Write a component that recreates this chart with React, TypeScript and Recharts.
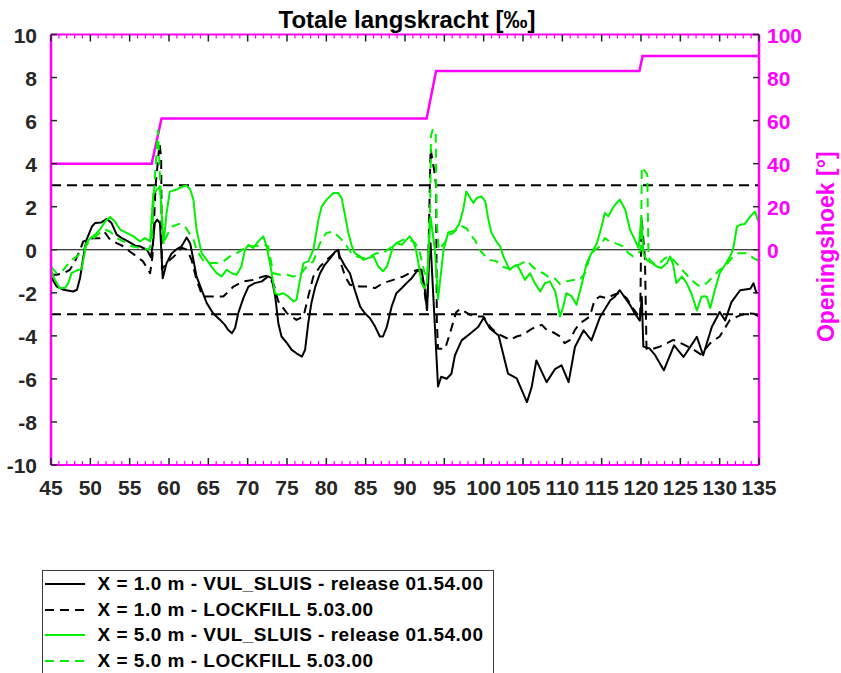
import React from "react";
import { LineChart, Line, XAxis, YAxis, ReferenceLine } from "recharts";

const W = 841;
const H = 673;

const MAGENTA = "#ff00ff";
const GREEN = "#00f000";
const INK = "#262626";
const FONT = "'Liberation Sans', Arial, Helvetica, sans-serif";

// time axis [s]
const T_RANGE: [number, number] = [45, 135];
const T_TICKS = Array.from({ length: 91 }, (_, i) => 45 + i);
const FORCE_RANGE: [number, number] = [-10, 10];
const FORCE_TICKS = [-10, -8, -6, -4, -2, 0, 2, 4, 6, 8, 10];
const ANGLE_RANGE: [number, number] = [-100, 100];
const ANGLE_TICKS = [-80, -60, -40, -20, 0, 20, 40, 60, 80, 100];
const FORCE_LIMITS = [3, -3];

// [t, force ‰] X = 1.0 m, VUL_SLUIS
const X1_VUL = [
  [45.0, -1.25], [45.7, -1.7], [46.6, -1.86], [47.8, -1.94], [48.3, -1.86], [48.7, -1.3], [49.1, -0.35],
  [49.5, 0.45], [50.2, 1.08], [50.6, 1.24], [51.4, 1.27], [52.1, 1.43], [52.7, 1.24], [53.35, 0.7],
  [54.0, 0.54], [54.8, 0.39], [55.7, 0.19], [56.3, 0.16], [57.2, 0.0], [57.7, -0.35], [57.95, 0.3],
  [58.2, 1.24], [58.5, 1.4], [58.85, 1.24], [59.2, -1.32], [59.7, -0.62], [60.3, -0.19], [61.0, 0.03],
  [61.6, 0.16], [62.25, 0.57], [62.7, 0.28], [63.1, -0.47], [63.5, -1.24], [64.15, -1.86], [64.8, -2.48],
  [65.6, -2.95], [66.5, -3.26], [67.1, -3.49], [67.5, -3.72], [68.0, -3.88], [68.4, -3.64], [68.8, -2.95],
  [69.45, -2.25], [70.1, -1.71], [70.9, -1.55], [71.8, -1.47], [72.6, -1.24], [73.05, -1.32], [73.5, -2.17],
  [73.9, -3.41], [74.3, -4.03], [75.0, -4.34], [75.6, -4.65], [76.2, -4.81], [76.9, -4.96], [77.3, -4.65],
  [77.7, -3.41], [78.1, -2.48], [78.6, -1.71], [79.2, -1.09], [79.8, -0.7], [80.5, -0.39], [81.1, -0.1],
  [81.5, 0.0], [81.7, -0.31], [82.4, -0.78], [83.0, -1.09], [83.6, -1.86], [84.3, -2.64], [84.9, -2.95],
  [85.55, -3.18], [86.2, -3.57], [86.8, -4.03], [87.2, -4.03], [87.7, -3.57], [88.3, -2.64], [88.9, -2.02],
  [89.6, -1.78], [90.2, -1.55], [90.85, -1.32], [91.5, -1.0], [92.1, -0.93], [92.5, -1.8], [92.8, -2.8],
  [93.1, -0.2], [93.25, 0.3], [94.2, -6.35], [94.6, -5.9], [95.3, -5.99], [95.9, -5.76], [96.35, -4.9],
  [97.2, -4.21], [98.3, -3.89], [99.3, -3.59], [100.0, -3.16], [100.8, -3.66], [101.9, -3.98], [103.1, -5.76],
  [104.2, -5.98], [105.5, -7.08], [106.1, -6.38], [106.7, -5.14], [108.0, -6.15], [109.1, -5.53], [109.9, -5.37],
  [110.8, -6.15], [111.6, -4.52], [112.7, -3.74], [113.7, -4.21], [114.8, -3.12], [116.1, -2.35], [116.7, -2.17],
  [117.3, -1.88], [118.0, -2.25], [118.6, -2.56], [119.2, -2.95], [119.85, -3.3], [120.1, -2.2], [120.3, -4.5],
  [121.1, -4.59], [121.8, -4.9], [122.9, -5.6], [124.2, -4.44], [125.4, -4.98], [127.1, -4.05], [127.9, -4.9],
  [129.0, -3.59], [130.0, -2.89], [130.7, -3.28], [131.5, -2.43], [132.6, -1.88], [133.9, -1.81], [134.3, -1.56],
  [134.7, -2.04],
];

// [t, force ‰] X = 1.0 m, LOCKFILL
const X1_LOCKFILL = [
  [45.0, -1.16], [45.7, -1.16], [46.6, -1.09], [47.4, -0.93], [48.05, -0.54], [48.7, 0.0], [49.1, 0.39],
  [49.8, 0.47], [50.4, 0.54], [51.2, 0.54], [51.9, 0.78], [52.5, 0.47], [53.35, 0.31], [54.2, 0.16],
  [55.0, -0.08], [55.9, -0.31], [56.7, -0.54], [57.6, -1.09], [57.9, -0.3], [58.3, 3.0], [58.8, 4.95],
  [59.0, 4.3], [59.1, -0.9], [59.9, -0.55], [60.8, -0.25], [61.6, 0.1], [62.3, 0.0], [62.9, -0.5],
  [63.5, -1.4], [64.2, -2.1], [64.6, -2.17], [66.9, -2.17], [68.2, -1.71], [69.45, -1.47], [70.7, -1.4],
  [72.0, -1.24], [72.6, -1.2], [73.3, -1.6], [73.9, -2.4], [75.0, -2.95], [76.2, -3.26], [77.1, -3.1],
  [77.7, -2.17], [78.35, -1.24], [79.2, -0.78], [80.05, -0.47], [80.9, -0.2], [81.5, 0.0], [81.7, -0.47],
  [82.4, -1.24], [83.0, -1.63], [84.3, -1.71], [85.1, -1.71], [86.2, -1.78], [87.2, -1.55], [88.5, -1.4],
  [89.8, -1.24], [91.06, -1.0], [91.9, -0.9], [92.5, -2.0], [92.8, -2.8], [93.05, 1.0], [93.25, 4.7],
  [93.7, 3.7], [93.95, 3.0], [94.05, -3.3], [94.2, -4.6], [95.1, -4.6], [95.7, -3.9], [96.5, -2.9],
  [97.0, -2.75], [98.3, -3.02], [99.1, -3.1], [99.95, -3.1], [100.8, -3.57], [101.65, -3.88], [102.5, -4.03],
  [103.35, -4.19], [104.2, -4.03], [105.0, -3.95], [105.9, -3.72], [106.7, -3.57], [107.4, -3.49], [108.0, -3.72],
  [108.85, -3.84], [109.7, -4.03], [110.3, -4.34], [111.0, -4.19], [111.6, -3.72], [112.25, -3.41], [112.9, -3.26],
  [113.5, -3.1], [114.1, -2.33], [114.8, -2.17], [115.6, -2.25], [116.5, -2.1], [117.3, -2.0], [118.2, -2.25],
  [118.8, -2.64], [119.45, -2.95], [119.9, -3.2], [120.05, 1.55], [120.5, -0.4], [120.7, -4.6], [121.1, -4.65],
  [122.4, -4.5], [124.1, -4.19], [125.4, -4.4], [126.5, -4.6], [127.6, -4.86], [128.8, -4.34], [130.0, -4.03],
  [131.3, -3.26], [132.6, -3.05], [133.5, -2.95], [134.3, -2.97], [135.0, -3.1],
];

// [t, force ‰] X = 5.0 m, VUL_SLUIS
const X5_VUL = [
  [45.0, -0.95], [45.5, -1.4], [46.1, -1.78], [46.8, -1.78], [47.2, -1.55], [47.6, -1.09], [48.3, -0.96],
  [48.9, -0.9], [49.5, 0.31], [50.0, 0.54], [50.6, 0.7], [51.2, 0.93], [51.9, 1.32], [52.5, 1.52],
  [53.1, 1.32], [53.8, 0.93], [54.6, 0.78], [55.5, 0.62], [56.3, 0.39], [56.95, 0.54], [57.6, 0.39],
  [58.0, 2.6], [58.4, 2.76], [58.85, 2.95], [59.3, 0.31], [59.7, 1.71], [60.1, 2.7], [61.0, 2.8],
  [61.8, 2.95], [62.25, 2.98], [62.7, 2.8], [63.1, 2.33], [63.5, 0.93], [64.15, -0.16], [64.8, -0.47],
  [65.4, -0.78], [66.06, -1.09], [66.7, -1.24], [67.33, -0.93], [67.97, -1.09], [68.6, -1.16], [69.2, -0.78],
  [69.66, 0.0], [70.1, 0.23], [70.7, 0.08], [71.35, 0.39], [72.0, 0.62], [72.4, 0.16], [72.84, -0.62],
  [73.47, -2.02], [73.9, -2.09], [74.5, -2.02], [75.17, -2.17], [75.8, -2.4], [76.2, -2.33], [76.65, -1.4],
  [77.1, -0.62], [77.7, -0.54], [78.35, 0.0], [79.0, 1.4], [79.4, 2.0], [80.04, 2.33], [80.9, 2.64],
  [81.5, 2.64], [81.95, 2.4], [82.4, 1.55], [82.8, 0.78], [83.2, 0.23], [83.6, -0.16], [84.3, -0.31],
  [84.7, -0.47], [85.3, -0.39], [86.0, -0.31], [86.6, -0.78], [87.2, -1.0], [87.7, -0.78], [88.1, -0.31],
  [88.5, 0.16], [88.9, 0.31], [89.6, 0.23], [90.0, 0.39], [90.6, 0.62], [91.06, 0.39], [91.4, 0.0],
  [91.7, -0.62], [92.1, -1.55], [92.5, -1.78], [92.8, -1.5], [93.25, 1.53], [93.8, 0.0], [94.2, -2.3],
  [94.9, 0.0], [95.5, 0.8], [96.35, 0.9], [96.9, 1.2], [97.4, 1.86], [97.8, 2.71], [98.3, 2.4],
  [98.7, 2.17], [99.1, 2.4], [99.7, 2.48], [100.2, 2.25], [100.6, 1.4], [101.0, 0.78], [101.6, 0.39],
  [102.1, 0.16], [102.5, -0.31], [102.9, -0.62], [103.3, -0.93], [103.8, -0.78], [104.2, -0.7], [104.6, -0.93],
  [105.25, -1.4], [105.9, -1.09], [106.5, -1.55], [107.2, -1.94], [107.8, -1.55], [108.4, -1.47], [109.1, -1.94],
  [109.7, -3.1], [110.1, -2.67], [110.5, -2.02], [111.2, -2.17], [111.8, -2.56], [112.5, -1.55], [113.1, -0.62],
  [113.7, -0.16], [114.4, 0.31], [115.0, 1.09], [115.4, 1.71], [115.85, 1.55], [116.3, 1.86], [116.7, 2.09],
  [117.3, 2.33], [118.0, 1.86], [118.6, 0.93], [119.2, 0.47], [119.7, 0.08], [120.05, 1.5], [120.3, -0.16],
  [120.7, -0.47], [121.4, -0.62], [122.0, -0.78], [122.6, -0.85], [123.3, -0.62], [123.7, -0.31], [124.1, -0.7],
  [124.5, -1.55], [125.2, -1.24], [125.8, -1.55], [126.4, -2.02], [127.1, -2.82], [127.7, -2.17], [128.35, -2.17],
  [128.8, -2.71], [129.4, -1.86], [130.0, -1.09], [130.7, -0.7], [131.3, -0.31], [131.7, 0.0], [132.2, 1.09],
  [132.6, 1.16], [133.2, 1.2], [133.9, 1.55], [134.5, 1.78], [134.9, 1.32],
];

// [t, force ‰] X = 5.0 m, LOCKFILL
const X5_LOCKFILL = [
  [45.0, -0.78], [45.7, -1.09], [46.6, -0.93], [47.4, -0.54], [48.3, -0.31], [49.1, 0.0], [49.7, 0.31],
  [50.4, 0.54], [51.2, 0.78], [51.9, 0.93], [52.5, 0.85], [53.35, 0.54], [54.2, 0.39], [55.3, 0.16],
  [56.3, 0.08], [57.4, 0.0], [57.8, 0.3], [58.2, 3.4], [58.6, 5.55], [58.95, 2.64], [59.3, 0.31],
  [59.9, 0.78], [60.5, 1.1], [61.3, 1.2], [62.0, 1.1], [62.6, 0.75], [63.1, 0.5], [63.5, 0.0],
  [64.4, -0.54], [65.2, -0.62], [66.06, -0.62], [66.9, -0.54], [67.75, -0.31], [68.6, -0.16], [69.45, 0.03],
  [70.3, 0.16], [71.1, 0.16], [72.0, 0.23], [72.6, 0.16], [73.26, -1.09], [74.1, -1.16], [75.0, -1.16],
  [75.8, -1.24], [76.65, -1.16], [77.5, -0.78], [78.35, -0.54], [79.2, 0.31], [80.0, 0.78], [80.9, 0.85],
  [81.3, 0.7], [81.95, 0.47], [82.6, 0.16], [83.2, -0.16], [83.9, -0.31], [84.7, -0.39], [85.55, -0.31],
  [86.4, -0.16], [87.2, -0.16], [88.1, 0.08], [88.9, 0.31], [89.8, 0.47], [90.6, 0.47], [91.3, 0.31],
  [91.9, -0.16], [92.5, -1.09], [92.85, -1.24], [93.2, 2.0], [93.3, 5.3], [93.55, 5.6], [93.9, 5.5],
  [94.0, 1.4], [94.3, 0.0], [95.1, 0.35], [95.5, 0.7], [96.0, 0.75], [96.6, 0.95], [97.2, 1.09],
  [97.8, 1.0], [98.5, 0.62], [98.9, 0.45], [99.5, 0.0], [100.2, -0.31], [100.8, -0.47], [101.65, -0.54],
  [102.5, -0.8], [103.35, -0.9], [104.2, -0.75], [105.0, -0.6], [105.5, -0.5], [106.1, -0.75], [106.7, -0.93],
  [107.6, -1.1], [108.4, -1.3], [109.1, -1.35], [109.7, -1.6], [110.5, -1.47], [111.4, -1.4], [112.2, -1.4],
  [112.9, -1.09], [113.5, -0.31], [114.15, 0.0], [114.8, 0.16], [115.4, 0.54], [116.0, 0.39], [116.7, 0.31],
  [117.75, 0.16], [118.4, -0.16], [119.0, -0.31], [119.6, -0.2], [120.0, 0.0], [120.1, 3.85], [120.8, 3.5],
  [120.95, -0.3], [121.1, -0.47], [121.8, -0.7], [122.4, -0.62], [123.05, -0.39], [123.7, -0.31], [124.5, -0.62],
  [125.4, -1.0], [126.2, -1.32], [126.9, -1.55], [127.5, -1.71], [128.35, -1.55], [129.2, -1.24], [130.0, -0.93],
  [130.7, -0.78], [131.5, -0.39], [132.4, -0.16], [133.4, -0.16], [134.3, -0.39], [134.9, -0.5],
];

// [t, opening angle °]
const OPENING = [
  [45, 40], [57.8, 40], [59.05, 61], [92.75, 61], [93.95, 83], [119.8, 83], [120.2, 90], [135, 90],
];

const SERIES = [
  { name: "X = 1.0 m - VUL_SLUIS - release 01.54.00", rows: X1_VUL, color: "#000000", dash: undefined },
  { name: "X = 1.0 m - LOCKFILL 5.03.00", rows: X1_LOCKFILL, color: "#000000", dash: "9 6" },
  { name: "X = 5.0 m - VUL_SLUIS - release 01.54.00", rows: X5_VUL, color: GREEN, dash: undefined },
  { name: "X = 5.0 m - LOCKFILL 5.03.00", rows: X5_LOCKFILL, color: GREEN, dash: "9 6" },
];

const toPoints = (rows: number[][]) => rows.map(([t, v]) => ({ t, v }));

const textStyle = { fontFamily: FONT, fontWeight: "bold" as const };

function BottomTick({ x, y, payload }: any) {
  const major = payload.value % 5 === 0;
  return (
    <g>
      <line x1={x} x2={x} y1={y} y2={y - (major ? 7 : 4)} stroke={major ? INK : MAGENTA} strokeWidth={major ? 1.5 : 1.2} />
      {major && (
        <text x={x} y={y + 30} textAnchor="middle" fill={INK} fontSize={21} {...textStyle}>
          {payload.value}
        </text>
      )}
    </g>
  );
}

function TopTick({ x, y, payload }: any) {
  const major = payload.value % 5 === 0;
  return <line x1={x} x2={x} y1={y} y2={y + (major ? 7 : 4)} stroke={major ? INK : MAGENTA} strokeWidth={major ? 1.5 : 1.2} />;
}

function ForceTick({ x, y, payload }: any) {
  return (
    <g>
      <line x1={x} x2={x + 6} y1={y} y2={y} stroke={INK} strokeWidth={1.5} />
      <text x={x - 14} y={y + 8} textAnchor="end" fill={INK} fontSize={21} {...textStyle}>
        {payload.value}
      </text>
    </g>
  );
}

function AngleTick({ x, y, payload }: any) {
  return (
    <g>
      <line x1={x} x2={x - 6} y1={y} y2={y} stroke={INK} strokeWidth={1.5} />
      {payload.value >= 0 && (
        <text x={x + 8} y={y + 8} textAnchor="start" fill={MAGENTA} fontSize={21} {...textStyle}>
          {payload.value}
        </text>
      )}
    </g>
  );
}

function TitleLabel({ viewBox }: any) {
  const { x, y, width, height } = viewBox;
  return (
    <text x={x + width / 2 + 2} y={y + height - 7} textAnchor="middle" fill="#000" fontSize={24} {...textStyle}>
      Totale langskracht [‰]
    </text>
  );
}

function AngleLabel({ viewBox }: any) {
  const { x, y, height } = viewBox;
  const cx = x + 67;
  const cy = y + height / 2 - 3;
  return (
    <text
      x={cx}
      y={cy}
      textAnchor="middle"
      dominantBaseline="central"
      transform={`rotate(-90 ${cx} ${cy})`}
      fill={MAGENTA}
      fontSize={23}
      {...textStyle}
    >
      Openingshoek [°]
    </text>
  );
}

function LegendBox() {
  return (
    <div
      style={{
        position: "absolute",
        left: 42,
        top: 570,
        width: 452,
        height: 130,
        boxSizing: "border-box",
        border: "1.5px solid #3a3a3a",
        background: "#fff",
        fontFamily: FONT,
        fontWeight: "bold",
        fontSize: 19,
        letterSpacing: 0.5,
        color: "#000",
      }}
    >
      {SERIES.map((s) => (
        <div key={s.name} style={{ display: "flex", alignItems: "center", height: 25.7, whiteSpace: "nowrap" }}>
          <svg width={40} height={10} style={{ marginLeft: 1.5, marginRight: 13 }}>
            <line x1={0} x2={40} y1={5} y2={5} stroke={s.color} strokeWidth={2} strokeDasharray={s.dash} />
          </svg>
          <span>{s.name}</span>
        </div>
      ))}
    </div>
  );
}

export default function App() {
  return (
    <div style={{ position: "absolute", left: 0, top: 0, width: W, height: H, overflow: "hidden", background: "#fff" }}>
      <LineChart width={W} height={H} margin={{ top: 0, right: 0, bottom: 168, left: 0 }}>
        <XAxis
          xAxisId="top"
          orientation="top"
          type="number"
          dataKey="t"
          domain={T_RANGE}
          ticks={T_TICKS}
          interval={0}
          height={34.5}
          tickSize={0}
          tickMargin={0}
          tick={(p: any) => <TopTick {...p} />}
          axisLine={{ stroke: MAGENTA, strokeWidth: 2 }}
          label={(p: any) => <TitleLabel {...p} />}
          allowDataOverflow
        />
        <XAxis
          xAxisId="t"
          type="number"
          dataKey="t"
          domain={T_RANGE}
          ticks={T_TICKS}
          interval={0}
          height={40}
          tickSize={0}
          tickMargin={0}
          tick={(p: any) => <BottomTick {...p} />}
          axisLine={{ stroke: MAGENTA, strokeWidth: 2 }}
          allowDataOverflow
        />
        <YAxis
          yAxisId="force"
          type="number"
          domain={FORCE_RANGE}
          ticks={FORCE_TICKS}
          interval={0}
          width={51}
          tickSize={0}
          tickMargin={0}
          tick={(p: any) => <ForceTick {...p} />}
          axisLine={{ stroke: MAGENTA, strokeWidth: 2.5 }}
          allowDataOverflow
        />
        <YAxis
          yAxisId="angle"
          orientation="right"
          type="number"
          domain={ANGLE_RANGE}
          ticks={ANGLE_TICKS}
          interval={0}
          width={82}
          tickSize={0}
          tickMargin={0}
          tick={(p: any) => <AngleTick {...p} />}
          axisLine={{ stroke: MAGENTA, strokeWidth: 2.5 }}
          label={(p: any) => <AngleLabel {...p} />}
          allowDataOverflow
        />

        <ReferenceLine xAxisId="t" yAxisId="force" y={0} stroke="#000" strokeWidth={1} />
        {FORCE_LIMITS.map((lim) => (
          <ReferenceLine key={lim} xAxisId="t" yAxisId="force" y={lim} stroke="#000" strokeWidth={2} strokeDasharray="10 6" />
        ))}

        <Line
          xAxisId="t"
          yAxisId="angle"
          data={toPoints(OPENING)}
          dataKey="v"
          stroke={MAGENTA}
          strokeWidth={2.5}
          dot={false}
          activeDot={false}
          isAnimationActive={false}
        />
        {SERIES.map((s) => (
          <Line
            key={s.name}
            xAxisId="t"
            yAxisId="force"
            data={toPoints(s.rows)}
            dataKey="v"
            stroke={s.color}
            strokeWidth={2}
            strokeDasharray={s.dash}
            strokeLinejoin="round"
            dot={false}
            activeDot={false}
            isAnimationActive={false}
          />
        ))}
      </LineChart>
      <LegendBox />
    </div>
  );
}
